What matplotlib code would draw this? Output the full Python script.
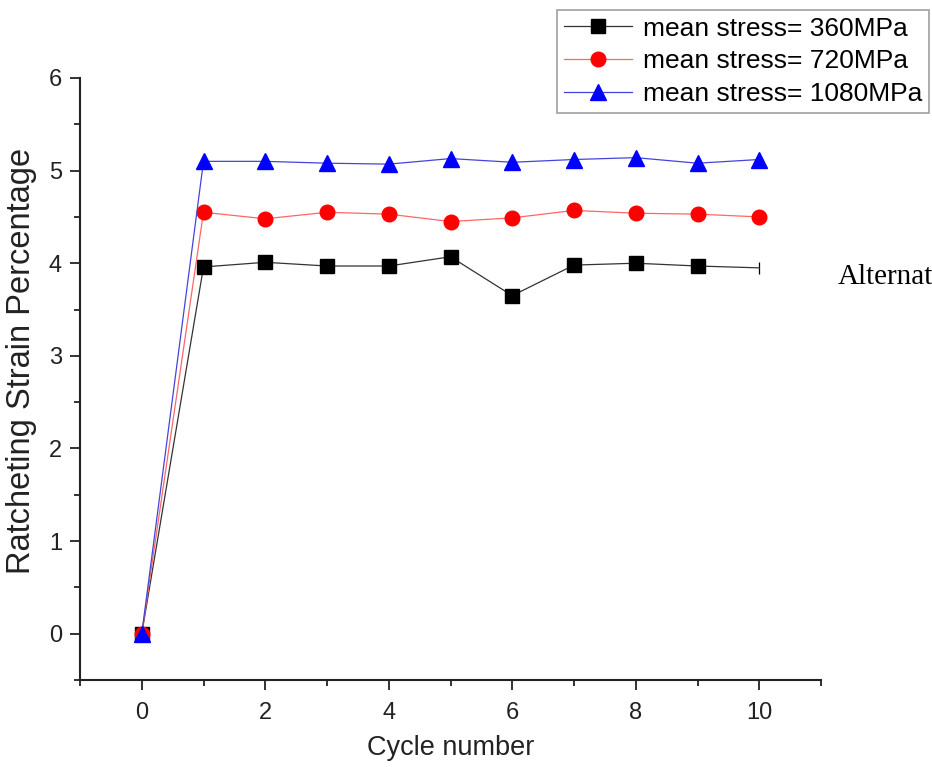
import matplotlib
matplotlib.use("Agg")
import matplotlib.pyplot as plt
from matplotlib.ticker import MultipleLocator

cycles = [0, 1, 2, 3, 4, 5, 6, 7, 8, 9, 10]
strain_360 = [0.0, 3.96, 4.01, 3.97, 3.97, 4.07, 3.65, 3.98, 4.00, 3.97, 3.95]
strain_720 = [0.0, 4.55, 4.48, 4.55, 4.53, 4.45, 4.49, 4.57, 4.54, 4.53, 4.50]
strain_1080 = [0.0, 5.10, 5.10, 5.08, 5.07, 5.13, 5.09, 5.12, 5.14, 5.08, 5.12]
labels = ["mean stress= 360MPa", "mean stress= 720MPa", "mean stress= 1080MPa"]

plt.rcParams['font.family'] = ['Liberation Sans', 'DejaVu Sans']

fig = plt.figure(figsize=(9.32, 7.67), dpi=100)
ax = fig.add_axes([80/932, 1-680/767, (821-80)/932, (680-78)/767])

l1, = ax.plot(cycles, strain_360, color='#333333', lw=0.9, marker='s', ms=9.5,
              mfc='black', mec='black', markevery=list(range(len(cycles)-1)), zorder=3)
ax.plot(cycles[-1:], strain_360[-1:], linestyle='none', marker='|', ms=9, color='black', mew=0.9)
l2, = ax.plot(cycles, strain_720, color='#ff6666', lw=0.9, marker='o', ms=10.5,
              mfc='red', mec='red', zorder=3)
l3, = ax.plot(cycles, strain_1080, color='#4444dd', lw=0.9, marker='^', ms=11,
              mfc='blue', mec='blue', zorder=4)

ax.set_xlim(-1, 11)
ax.set_ylim(-0.5, 6)
ax.xaxis.set_major_locator(MultipleLocator(2))
ax.xaxis.set_minor_locator(MultipleLocator(1))
ax.yaxis.set_major_locator(MultipleLocator(1))
ax.yaxis.set_minor_locator(MultipleLocator(0.5))
for s in ['top', 'right']:
    ax.spines[s].set_visible(False)
for s in ['left', 'bottom']:
    ax.spines[s].set_linewidth(1.5)
    ax.spines[s].set_color('#222222')
ax.tick_params(which='major', direction='out', length=7, width=1.3, labelsize=17, colors='#222222', pad=6)
ax.tick_params(which='minor', direction='out', length=4, width=1.3, colors='#222222')
ax.tick_params(axis='x', which='major', pad=9)

fig.text(451/932, 1-748/767, "Cycle number", ha='center', va='center', fontsize=19.5, color='#222222')
fig.text(22/932, 1-361/767, "Ratcheting Strain Percentage", ha='center', va='center',
         rotation=90, fontsize=23.5, color='#222222')
fig.text(838/932, 1-277/767, "Alternat", ha='left', va='center', fontsize=21,
         family=['Liberation Serif', 'DejaVu Serif'], color='black')

leg = fig.legend([l1, l2, l3], labels, loc='upper right', bbox_to_anchor=(929/932, 1-10/767),
                 fontsize=19, frameon=True, fancybox=False, handlelength=2.6, handletextpad=0.4,
                 labelspacing=0.33, borderpad=0.25, borderaxespad=0)
leg.get_frame().set_edgecolor('#888888')
leg.get_frame().set_linewidth(1.2)

fig.savefig("out.png", dpi=100)
